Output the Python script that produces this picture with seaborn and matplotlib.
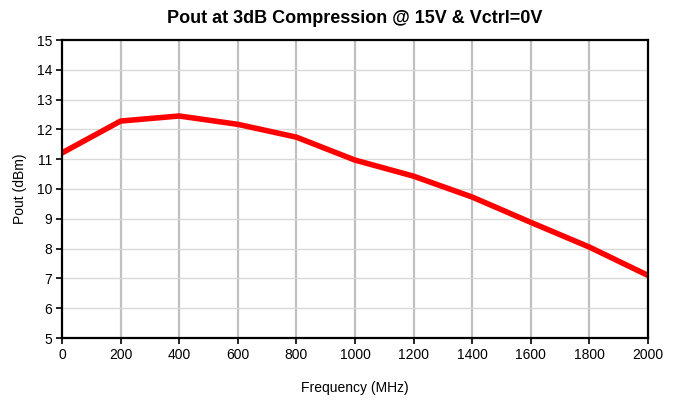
import matplotlib
matplotlib.use("Agg")
import matplotlib.pyplot as plt
import seaborn as sns
import pandas as pd

# data
freq_mhz = [0, 200, 400, 600, 800, 1000, 1200, 1400, 1600, 1800, 2000]
pout_dbm = [11.21, 12.28, 12.45, 12.17, 11.74, 10.97, 10.43, 9.73, 8.88, 8.05, 7.10]

df = pd.DataFrame({"Frequency": freq_mhz, "Pout": pout_dbm})

sns.set_style("white")
plt.rcParams['font.family'] = ['Liberation Sans', 'DejaVu Sans']
plt.rcParams['text.color'] = 'black'
plt.rcParams['axes.labelcolor'] = 'black'
plt.rcParams['xtick.color'] = 'black'
plt.rcParams['ytick.color'] = 'black'

fig = plt.figure(figsize=(6.78, 4.0), dpi=100)
ax = fig.add_axes([0.0914, 0.155, 0.8644, 0.745])

sns.lineplot(data=df, x="Frequency", y="Pout", color="#ff0000", linewidth=4, ax=ax)

ax.set_xlim(0, 2000)
ax.set_ylim(5, 15)
ax.set_xticks(range(0, 2001, 200))
ax.set_yticks(range(5, 16))

# gridlines: vertical darker/thicker, horizontal light
for x in range(200, 2000, 200):
    ax.axvline(x, color="#c0c0c0", linewidth=1.6, zorder=0)
for y in range(6, 15):
    ax.axhline(y, color="#d9d9d9", linewidth=1.0, zorder=0)

for s in ax.spines.values():
    s.set_color("black")
    s.set_linewidth(1.6)
    s.set_visible(True)

ax.tick_params(axis="both", direction="out", length=4, width=1.2, color="black",
               labelsize=10, pad=3, bottom=True, left=True)

ax.set_xlabel("Frequency (MHz)", fontsize=10, labelpad=14)
ax.set_ylabel("Pout (dBm)", fontsize=10, labelpad=7)
ax.set_title("Pout at 3dB Compression @ 15V & Vctrl=0V", fontsize=13, fontweight="bold", pad=12)

fig.savefig("out.png", dpi=100)
